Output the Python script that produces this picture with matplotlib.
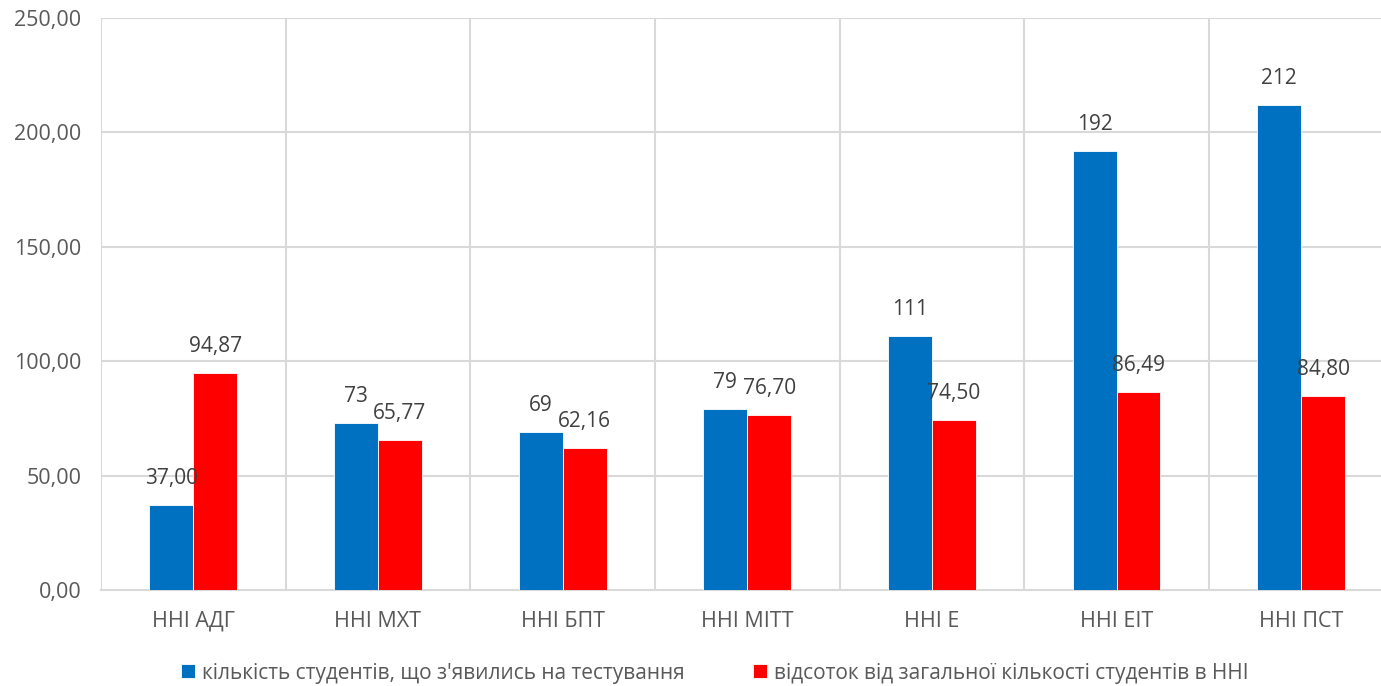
import matplotlib
matplotlib.use('Agg')
import matplotlib.pyplot as plt
import numpy as np

plt.rcParams['font.family'] = ['Open Sans', 'DejaVu Sans']

categories = ['ННІ АДГ', 'ННІ МХТ', 'ННІ БПТ', 'ННІ МІТТ', 'ННІ Е', 'ННІ ЕІТ', 'ННІ ПСТ']
students = [37, 73, 69, 79, 111, 192, 212]
students_labels = ['37,00', '73', '69', '79', '111', '192', '212']
percent = [94.87, 65.77, 62.16, 76.70, 74.50, 86.49, 84.80]
series_names = ["кількість студентів, що з'явились на тестування",
                'відсоток від загальної кількості студентів в ННІ']

BLUE = '#0070C0'
RED = '#FF0000'
GRID = '#D9D9D9'
TICK_COLOR = '#595959'
LABEL_COLOR = '#404040'
BAR_W = 0.238

fig = plt.figure(figsize=(13.81, 6.86), dpi=100)
ax = fig.add_axes([101 / 1381, 1 - 590 / 686, 1292.5 / 1381, 572 / 686])

x = np.arange(len(categories))
b1 = ax.bar(x - BAR_W / 2, students, BAR_W, color=BLUE, edgecolor='white', linewidth=0.6,
            label=series_names[0], zorder=3)
b2 = ax.bar(x + BAR_W / 2, percent, BAR_W, color=RED, edgecolor='white', linewidth=0.6,
            label=series_names[1], zorder=3)

for rect, txt in zip(b1, students_labels):
    ax.annotate(txt, (rect.get_x() + rect.get_width() / 2, rect.get_height()),
                xytext=(0, 19), textcoords='offset points', ha='center', va='center',
                fontsize=15, color=LABEL_COLOR)
for rect, val in zip(b2, percent):
    ax.annotate(f'{val:.2f}'.replace('.', ','), (rect.get_x() + rect.get_width() / 2, rect.get_height()),
                xytext=(0, 19), textcoords='offset points', ha='center', va='center',
                fontsize=15, color=LABEL_COLOR)

ax.set_xlim(-0.5, len(categories) - 0.5)
ax.set_ylim(0, 250)
ax.set_yticks(np.arange(0, 251, 50))
ax.set_yticklabels([f'{v:.2f}'.replace('.', ',') for v in np.arange(0, 251, 50)])
ax.set_xticks(x)
ax.set_xticklabels(categories)

for v in np.arange(50, 251, 50):
    ax.axhline(v, color=GRID, linewidth=1.5, zorder=0)
for v in np.arange(-0.5, len(categories), 1):
    ax.axvline(v, color=GRID, linewidth=1.5, zorder=0)

for s in ['top', 'right', 'left']:
    ax.spines[s].set_visible(False)
ax.spines['bottom'].set_color(GRID)
ax.spines['bottom'].set_linewidth(1.5)
ax.tick_params(axis='both', length=0, labelsize=15.5, colors=TICK_COLOR)
ax.tick_params(axis='x', pad=15)
ax.tick_params(axis='y', pad=14)

fig.legend(loc='center', bbox_to_anchor=(715 / 1381, 13 / 686), ncol=2, frameon=False,
           fontsize=15, handlelength=0.65, handleheight=0.65, handletextpad=0.35,
           columnspacing=3.3, labelcolor=TICK_COLOR)

fig.savefig('out.png', dpi=100)
